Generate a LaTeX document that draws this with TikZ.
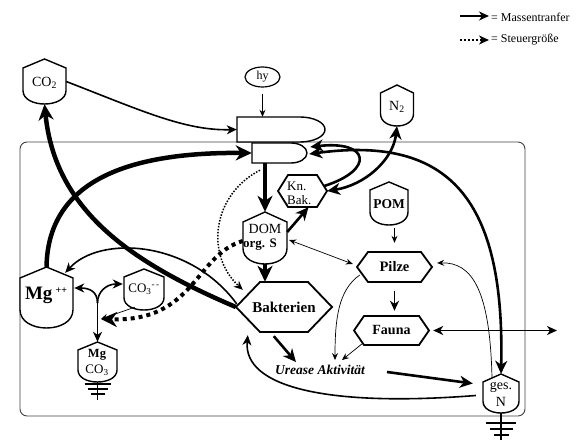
\documentclass[tikz,border=0pt]{standalone}
\usepackage{fontspec}
\setmainfont{Liberation Serif}
\usetikzlibrary{arrows.meta,shapes.geometric,calc}
\tikzset{
  frame/.style={draw=black!75, line width=0.9pt, rounded corners=7pt},
  shp/.style={draw, line width=1.4pt, fill=white, line join=miter},
  hexline/.style={draw, line width=1.8pt, fill=white},
  gnd/.style={draw, line width=1.6pt},
  ar1/.style={-{Stealth[length=7pt,width=6pt,inset=2.5pt]}, line width=0.7pt},
  ar1both/.style={{Stealth[length=7pt,width=6pt,inset=2.5pt]}-{Stealth[length=7pt,width=6pt,inset=2.5pt]}, line width=0.7pt},
  ar2/.style={-{Stealth[length=10pt,width=9pt,inset=3pt]}, line width=1.6pt},
  ar2both/.style={{Stealth[length=10pt,width=9pt,inset=3pt]}-{Stealth[length=10pt,width=9pt,inset=3pt]}, line width=1.8pt},
  ar3/.style={-{Stealth[length=13pt,width=12pt,inset=4pt]}, line width=2.6pt},
  ar3both/.style={{Stealth[length=13pt,width=12pt,inset=4pt]}-{Stealth[length=13pt,width=12pt,inset=4pt]}, line width=2.6pt},
  ar4/.style={-{Stealth[length=16pt,width=15pt,inset=5pt]}, line width=4.5pt},
  dotthick/.style={-{Stealth[length=16pt,width=15pt,inset=5pt]}, line width=4pt, dash pattern=on 4pt off 4pt},
  dotthin/.style={-{Stealth[length=9pt,width=8pt,inset=3pt]}, line width=1.5pt, dash pattern=on 1.5pt off 1.5pt},
  dotleg/.style={-{Stealth[length=10pt,width=9pt,inset=3pt]}, line width=1.6pt, dash pattern=on 2pt off 2pt},
  txt/.style={inner sep=0pt, font=\fontsize{13}{13}\selectfont},
  btxt/.style={inner sep=0pt, font=\fontsize{14}{14}\selectfont\bfseries},
}
\newcommand\shieldnode[6]{% name cx top w h shoulder
  \draw[shp] ({#2-#4/2},{#3+#6}) -- (#2,#3) -- ({#2+#4/2},{#3+#6}) -- ({#2+#4/2},{#3+0.7*#5})
    .. controls ({#2+#4/2},{#3+0.9*#5}) and ({#2+#4/4},{#3+#5}) .. (#2,{#3+#5})
    .. controls ({#2-#4/4},{#3+#5}) and ({#2-#4/2},{#3+0.9*#5}) .. ({#2-#4/2},{#3+0.7*#5}) -- cycle;
  \node[inner sep=0pt, minimum width=#4pt, minimum height=#5pt] (#1) at (#2,{#3+#5/2}) {};
}
\newcommand\hexnode[7]{% name cx cy w h inset content
  \draw[hexline] ({#2-#4/2},#3) -- ({#2-#4/2+#6},{#3-#5/2}) -- ({#2+#4/2-#6},{#3-#5/2}) -- ({#2+#4/2},#3)
    -- ({#2+#4/2-#6},{#3+#5/2}) -- ({#2-#4/2+#6},{#3+#5/2}) -- cycle;
  \node[inner sep=0pt, minimum width=#4pt, minimum height=#5pt] (#1) at (#2,#3) {#7};
}
\begin{document}
\begin{tikzpicture}[x=1pt,y=-1pt]
\useasboundingbox (0,0) rectangle (587,446);
\draw[frame] (20,142) rectangle (525,416);

% legend
\coordinate (l1a) at (460,16); \coordinate (l1b) at (489,16);
\draw[ar2] (l1a) -- (l1b);
\node[txt, font=\fontsize{12}{12}\selectfont, anchor=west] (l1t) at (491,17) {= Massentranfer};
\coordinate (l2a) at (460,40); \coordinate (l2b) at (489,40);
\draw[dotleg] (l2a) -- (l2b);
\node[txt, font=\fontsize{12}{12}\selectfont, anchor=west] (l2t) at (491,40) {= Steuergröße};

% plant
\draw[shp] (237,117) -- (300,117) arc[start angle=-90,end angle=90,x radius=25,y radius=12.5] -- (237,142) -- cycle;
\node[inner sep=0pt, minimum width=88pt, minimum height=25pt] (leafU) at (281,129.5) {};
\draw[shp] (252,143) -- (291,143) arc[start angle=-90,end angle=90,x radius=16,y radius=10] -- (252,163) -- cycle;
\node[inner sep=0pt, minimum width=55pt, minimum height=20pt] (leafL) at (279.5,153) {};

\node[ellipse, draw, line width=1.2pt, minimum width=35pt, minimum height=20pt, inner sep=0pt, font=\fontsize{12}{12}\selectfont] (hv) at (262.5,77) {hy};

% shields
\shieldnode{co2}{44.5}{59}{43}{45}{9}
\node[txt, font=\fontsize{14}{14}\selectfont] (co2t) at (44.5,83) {CO\textsubscript{2}};
\shieldnode{n2}{397}{85}{33}{41}{8}
\node[txt, font=\fontsize{14}{14}\selectfont] (n2t) at (397,107) {N\textsubscript{2}};
\shieldnode{pom}{389}{182}{38}{43}{8}
\node[btxt, font=\fontsize{13.5}{14}\selectfont\bfseries] (pomt) at (389,204) {POM};
\shieldnode{dom}{265}{212}{44}{52}{10}
\node[txt, font=\fontsize{14}{14}\selectfont] (domt1) at (265,228.5) {DOM};
\node[btxt, font=\fontsize{13}{13}\selectfont\bfseries] (domt2) at (260,245) {org. S};
\shieldnode{mg}{46.5}{267}{53}{61}{11}
\node[inner sep=0pt] (mgt) at (46,295) {\fontsize{19}{19}\selectfont\bfseries Mg\,\raisebox{6pt}{\fontsize{10}{10}\selectfont ++}};
\shieldnode{co3}{144}{269}{40}{41}{8}
\node[txt] (co3t) at (144,289) {CO\textsubscript{3}\textsuperscript{-\,-}};
\shieldnode{mgco3}{97.5}{342}{39}{40}{8}
\node[btxt, font=\fontsize{12.5}{13}\selectfont\bfseries] (mgco3t1) at (97,355) {Mg};
\node[txt] (mgco3t2) at (97,370) {CO\textsubscript{3}};
\shieldnode{gesn}{501}{374}{36}{39}{8}
\node[txt, font=\fontsize{14}{14}\selectfont] (gesnt1) at (501,387) {ges.};
\node[txt, font=\fontsize{14}{14}\selectfont] (gesnt2) at (501,402) {N};

% ground symbols
\draw[gnd] (mgco3.south) -- ++(0,18);
\draw[gnd] ($(mgco3.south)+(-13,2)$) -- ++(26,0);
\draw[gnd] ($(mgco3.south)+(-10,7)$) -- ++(20,0);
\draw[gnd] ($(mgco3.south)+(-7,12)$) -- ++(14,0);
\draw[gnd] (gesn.south) -- ++(0,27);
\draw[gnd] ($(gesn.south)+(-15,10)$) -- ++(30,0);
\draw[gnd] ($(gesn.south)+(-11.5,16)$) -- ++(23,0);
\draw[gnd] ($(gesn.south)+(-7.5,22)$) -- ++(15,0);

% hexagons
\hexnode{knbak}{302.5}{191}{49}{32}{10}{}
\node[txt, anchor=west] (knt1) at (287,186) {Kn.};
\node[txt, anchor=west] (knt2) at (287,200) {Bak.};
\hexnode{pilze}{394.5}{267}{75}{30}{11}{\fontsize{14.5}{15}\selectfont\bfseries Pilze}
\hexnode{fauna}{391.5}{330.5}{75}{29}{10}{\fontsize{14}{15}\selectfont\bfseries Fauna}
\hexnode{bak}{284}{307}{96}{50}{24}{\fontsize{15}{16}\selectfont\bfseries Bakterien}

\node[inner sep=0pt, font=\fontsize{13.5}{14}\selectfont\bfseries\itshape] (urease) at (320,370) {Urease Aktivität};

% connectors
\draw[ar1, shorten <=6pt] (hv.south) -- (hv.south |- leafU.north);
\draw[ar2] (co2.east) .. controls (140,110) and (185,131) .. (leafU.west);
\draw[ar4] (mg.north) .. controls (48,185) and (120,152) .. (leafL.west);
\draw[ar4] (bak.west) .. controls (130,262) and (55,210) .. (co2.south);
\draw[ar4] (dom.north |- leafL.south) -- (dom.north);
\draw[ar4] (dom.south) -- (dom.south |- bak.north);
\draw[ar3] ($(dom.east)+(0,-6)$) -- ($(knbak.south)+(6,0)$);
\draw[ar1both] ($(dom.east)+(2,2)$) -- ($(pilze.west)+(-4,-3)$);
\draw[ar1, shorten <=3pt, shorten >=9pt] (pilze.north |- pom.south) -- (pilze.north);
\draw[ar2, shorten <=9pt, shorten >=5pt] (pilze.south) -- (pilze.south |- fauna.north);
\coordinate (eastout) at (557,330.5);
\draw[ar2both] ($(fauna.east)+(4,0)$) -- (eastout);
\draw[ar1] ($(fauna.south west)+(9,-2)$) -- ($(urease.north)+(22,-5)$);
\draw[ar1] ($(pilze.west)+(3,8)$) .. controls (338,290) and (335,320) .. ($(urease.north)+(15,-5)$);
\draw[ar1] ($(gesn.north)+(-9,4)$) .. controls (490,290) and (472,262) .. ($(pilze.east)+(5,-4)$);
\draw[ar3both] ($(leafL.east)+(2,1)$) .. controls (450,135) and (505,200) .. (gesn.north);
\draw[ar3both] (knbak.east) .. controls (365,185) and (393,160) .. (n2.south);
\draw[ar3] ($(knbak.east)+(-3,-5)$) .. controls (375,170) and (370,140) .. ($(leafL.east)+(3,-6)$);
\draw[ar3] ($(urease.east)+(22,2)$) -- ($(gesn.west)+(-10,-10)$);
\draw[ar2] ($(gesn.west)+(-7,2)$) .. controls (330,407) and (243,388) .. ($(bak.south west)+(12,3)$);
\draw[ar3] ($(bak.south west)+(38,4)$) -- ($(urease.north)+(-24,-3)$);
\draw[ar2] ($(bak.west)+(1,-3)$) .. controls (190,240) and (100,235) .. ($(mg.north east)+(-8,6)$);
\coordinate (fork) at (97.5,303);
\coordinate (mgin) at (101,319);
\draw[ar2] (fork) .. controls (97.5,292) and (90,288) .. ($(mg.east)+(1,-9.5)$);
\draw[ar2] (fork) .. controls (97.5,292) and (106,284) .. ($(co3.west)+(-1,-5.5)$);
\draw[ar2] (fork) -- (mgco3.north);
\draw[ar1] ($(co3.south west)+(11,-3)$) -- (mgin);
\draw[dotthick] ($(dom.west)+(0,3)$) .. controls (195,255) and (195,322) .. (mgin);
\draw[dotthin] ($(leafL.south)+(-19.5,7)$) .. controls (212,195) and (205,255) .. ($(bak.north west)+(7,8)$);
\end{tikzpicture}
\end{document}
